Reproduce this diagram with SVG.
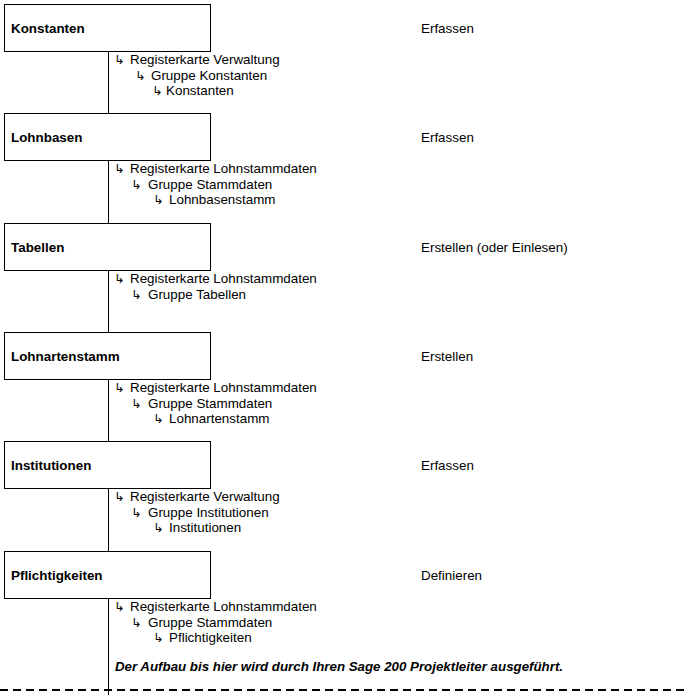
<svg xmlns="http://www.w3.org/2000/svg" width="685" height="695" viewBox="0 0 685 695">
<style>
.box{fill:#fff;stroke:#000;stroke-width:1}
.ln{stroke:#000;stroke-width:1;fill:none}
.t{font-family:"Liberation Sans",Arial,sans-serif;font-size:13.4px;fill:#000}
.b{font-weight:bold}
.ar{font-family:"DejaVu Sans",sans-serif;font-size:12.5px;fill:#000}
.note{font-family:"Liberation Sans",Arial,sans-serif;font-size:13.3px;font-weight:bold;font-style:italic;fill:#000}
</style>
<rect width="685" height="695" fill="#fff"/>
<g id="connectors">
<line class="ln" x1="108.5" y1="51" x2="108.5" y2="113"/>
<line class="ln" x1="108.5" y1="160" x2="108.5" y2="223"/>
<line class="ln" x1="108.5" y1="270" x2="108.5" y2="332"/>
<line class="ln" x1="108.5" y1="379" x2="108.5" y2="441"/>
<line class="ln" x1="108.5" y1="488" x2="108.5" y2="551"/>
<line class="ln" x1="108.5" y1="598" x2="108.5" y2="695"/>
<line x1="0" y1="690" x2="685" y2="690" stroke="#000" stroke-width="2" stroke-dasharray="8,5"/>
</g>
<g id="konstanten">
<rect class="box" x="4.5" y="4.5" width="206" height="47"/>
<text class="t b" x="11" y="33">Konstanten</text>
<text class="t" x="421" y="33">Erfassen</text>
<text class="ar" x="114" y="63.5">↳</text><text class="t" x="130" y="64">Registerkarte Verwaltung</text>
<text class="ar" x="135" y="79.5">↳</text><text class="t" x="151" y="80">Gruppe Konstanten</text>
<text class="ar" x="152" y="94.5">↳</text><text class="t" x="166" y="95">Konstanten</text>
</g>
<g id="lohnbasen">
<rect class="box" x="4.5" y="113.5" width="206" height="47"/>
<text class="t b" x="11" y="142">Lohnbasen</text>
<text class="t" x="421" y="142">Erfassen</text>
<text class="ar" x="114" y="172.5">↳</text><text class="t" x="130" y="173">Registerkarte Lohnstammdaten</text>
<text class="ar" x="131" y="188.5">↳</text><text class="t" x="148" y="189">Gruppe Stammdaten</text>
<text class="ar" x="153" y="203.5">↳</text><text class="t" x="169" y="204">Lohnbasenstamm</text>
</g>
<g id="tabellen">
<rect class="box" x="4.5" y="223.5" width="206" height="47"/>
<text class="t b" x="11" y="252">Tabellen</text>
<text class="t" x="421" y="252">Erstellen (oder Einlesen)</text>
<text class="ar" x="114" y="282.5">↳</text><text class="t" x="130" y="283">Registerkarte Lohnstammdaten</text>
<text class="ar" x="131" y="298.5">↳</text><text class="t" x="148" y="299">Gruppe Tabellen</text>
</g>
<g id="lohnartenstamm">
<rect class="box" x="4.5" y="332.5" width="206" height="47"/>
<text class="t b" x="11" y="361">Lohnartenstamm</text>
<text class="t" x="421" y="361">Erstellen</text>
<text class="ar" x="114" y="391.5">↳</text><text class="t" x="130" y="392">Registerkarte Lohnstammdaten</text>
<text class="ar" x="131" y="407.5">↳</text><text class="t" x="148" y="408">Gruppe Stammdaten</text>
<text class="ar" x="153" y="422.5">↳</text><text class="t" x="169" y="423">Lohnartenstamm</text>
</g>
<g id="institutionen">
<rect class="box" x="4.5" y="441.5" width="206" height="47"/>
<text class="t b" x="11" y="470">Institutionen</text>
<text class="t" x="421" y="470">Erfassen</text>
<text class="ar" x="114" y="500.5">↳</text><text class="t" x="130" y="501">Registerkarte Verwaltung</text>
<text class="ar" x="131" y="516.5">↳</text><text class="t" x="148" y="517">Gruppe Institutionen</text>
<text class="ar" x="153" y="531.5">↳</text><text class="t" x="169" y="532">Institutionen</text>
</g>
<g id="pflichtigkeiten">
<rect class="box" x="4.5" y="551.5" width="206" height="47"/>
<text class="t b" x="11" y="580">Pflichtigkeiten</text>
<text class="t" x="421" y="580">Definieren</text>
<text class="ar" x="114" y="610.5">↳</text><text class="t" x="130" y="611">Registerkarte Lohnstammdaten</text>
<text class="ar" x="131" y="626.5">↳</text><text class="t" x="148" y="627">Gruppe Stammdaten</text>
<text class="ar" x="153" y="641.5">↳</text><text class="t" x="169" y="642">Pflichtigkeiten</text>
</g>
<g id="note">
<text class="note" x="115" y="671">Der Aufbau bis hier wird durch Ihren Sage 200 Projektleiter ausgeführt.</text>
</g>
</svg>
